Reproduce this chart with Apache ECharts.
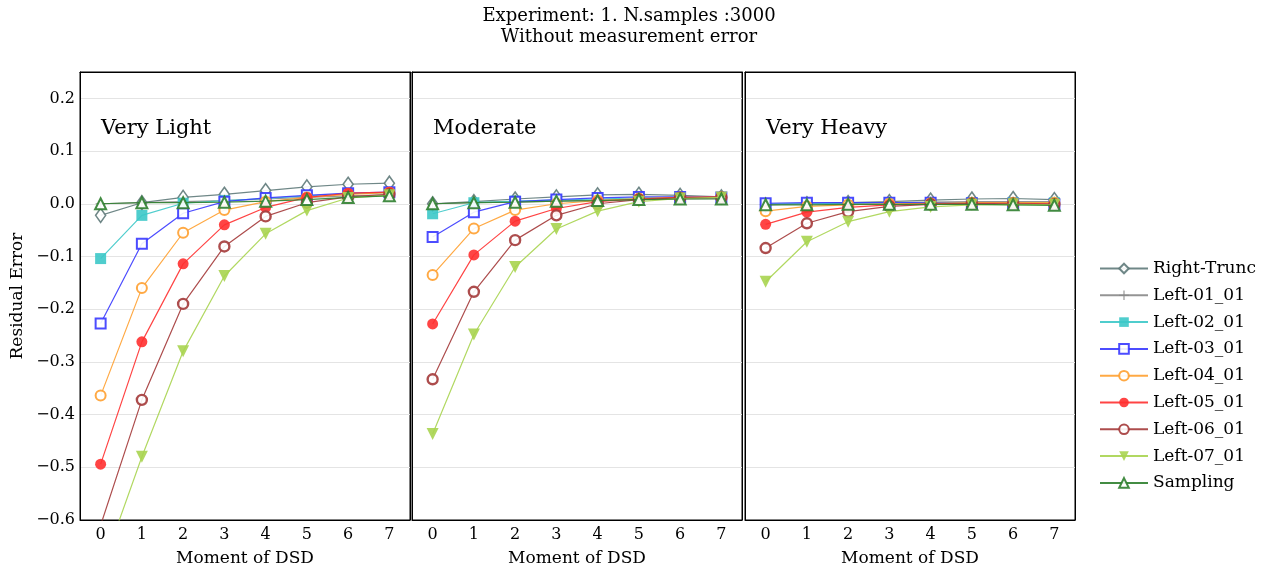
<!DOCTYPE html>
<html>
<head>
<meta charset="utf-8">
<script src="https://cdn.jsdelivr.net/npm/echarts@6/dist/echarts.min.js"></script>
<style>
  html, body { margin: 0; padding: 0; background: #fff; }
  #main { width: 1270px; height: 573px; }
</style>
</head>
<body>
<div id="main"></div>
<script>
// moments on the x axis
const moments = ['0', '1', '2', '3', '4', '5', '6', '7']
const panelNames = ['Very Light', 'Moderate', 'Very Heavy']
const seriesNames = ['Right-Trunc', 'Left-01_01', 'Left-02_01', 'Left-03_01', 'Left-04_01',
  'Left-05_01', 'Left-06_01', 'Left-07_01', 'Sampling']

// Very Light
const veryLight = [
  [-0.022, 0.002, 0.012, 0.018, 0.025, 0.032, 0.037, 0.039],
  [0.000, 0.002, 0.004, 0.006, 0.009, 0.012, 0.015, 0.017],
  [-0.104, -0.022, 0.001, 0.006, 0.010, 0.015, 0.019, 0.021],
  [-0.227, -0.076, -0.018, 0.004, 0.011, 0.016, 0.020, 0.022],
  [-0.364, -0.160, -0.055, -0.012, 0.004, 0.012, 0.018, 0.021],
  [-0.494, -0.262, -0.114, -0.040, -0.007, 0.012, 0.020, 0.022],
  [-0.610, -0.372, -0.190, -0.081, -0.024, 0.002, 0.013, 0.018],
  [-0.700, -0.480, -0.280, -0.137, -0.057, -0.013, 0.011, 0.016],
  [0.000, 0.002, 0.002, 0.003, 0.005, 0.008, 0.012, 0.015]
]
// Moderate
const moderate = [
  [0.000, 0.004, 0.009, 0.013, 0.017, 0.018, 0.016, 0.013],
  [0.000, 0.002, 0.003, 0.005, 0.007, 0.008, 0.009, 0.010],
  [-0.019, 0.002, 0.005, 0.007, 0.009, 0.011, 0.012, 0.012],
  [-0.063, -0.016, 0.004, 0.008, 0.011, 0.013, 0.013, 0.012],
  [-0.135, -0.047, -0.012, 0.000, 0.006, 0.010, 0.012, 0.012],
  [-0.228, -0.097, -0.033, -0.009, 0.004, 0.009, 0.012, 0.013],
  [-0.333, -0.167, -0.069, -0.022, 0.000, 0.008, 0.011, 0.012],
  [-0.437, -0.248, -0.120, -0.048, -0.014, 0.004, 0.010, 0.012],
  [0.000, 0.002, 0.003, 0.005, 0.006, 0.008, 0.009, 0.009]
]
// Very Heavy
const veryHeavy = [
  [-0.002, 0.000, 0.002, 0.004, 0.007, 0.009, 0.010, 0.008],
  [-0.001, 0.000, 0.001, 0.002, 0.003, 0.004, 0.004, 0.004],
  [0.000, 0.000, 0.001, 0.002, 0.002, 0.002, 0.002, 0.002],
  [0.001, 0.002, 0.002, 0.002, 0.002, 0.001, 0.000, -0.001],
  [-0.014, -0.005, -0.002, 0.000, 0.001, 0.002, 0.002, 0.002],
  [-0.039, -0.016, -0.007, -0.002, 0.000, 0.001, 0.001, 0.000],
  [-0.084, -0.037, -0.015, -0.005, -0.001, 0.000, 0.000, -0.001],
  [-0.148, -0.072, -0.034, -0.015, -0.006, -0.002, -0.001, -0.002],
  [-0.002, -0.002, -0.001, -0.001, -0.001, -0.001, -0.002, -0.003]
]
const panelData = [veryLight, moderate, veryHeavy]

const colors = ['#5f7a7a', '#888888', '#3cc8c8', '#3838ff', '#ffa030',
  '#ff3030', '#a43a3a', '#a8d450', '#2f7f2f']
const plusPath = 'path://M4.4,0 h1.2 v4.4 h4.4 v1.2 h-4.4 v4.4 h-1.2 v-4.4 h-4.4 v-1.2 h4.4 z'
const symbols = ['diamond', plusPath, 'rect', 'rect', 'circle', 'circle', 'circle', 'triangle', 'triangle']
const symbolSizes = [[10, 14], 10, 11, 10, 10, 11, 10, 12, 11]
const hollow = [true, false, false, true, true, false, true, false, true]
const borderW = [1.6, 0, 0, 2, 2, 0, 2.4, 0, 2]
const rotates = [0, 0, 0, 0, 0, 0, 0, 180, 0]

const font = 'DejaVu Serif'
const chart = echarts.init(document.getElementById('main'))

const panelLefts = [80, 412, 745]
const panelWidth = 330
let grids = [], xAxes = [], yAxes = [], series = [], titles = []

titles.push({
  text: 'Experiment: 1. N.samples :3000\nWithout measurement error',
  left: 624, top: 1, textAlign: 'center',
  textStyle: { fontFamily: font, fontWeight: 'normal', fontSize: 18, color: '#000', lineHeight: 21 }
})

function yLabel(v) {
  let s = v.toFixed(1)
  if (s === '-0.0') s = '0.0'
  return s.replace('-', '\u2212')
}

panelLefts.forEach(function (left, p) {
  grids.push({ left: left, width: panelWidth, top: 72, bottom: 53, show: true,
    borderColor: '#000', borderWidth: 1, backgroundColor: '#fff' })
  titles.push({ text: panelNames[p], left: left + 16, top: 113,
    textStyle: { fontFamily: font, fontWeight: 'normal', fontSize: 21, color: '#000' } })
  xAxes.push({
    type: 'category', data: moments, gridIndex: p, boundaryGap: true,
    name: 'Moment of DSD', nameLocation: 'middle', nameGap: 30,
    nameTextStyle: { fontFamily: font, fontSize: 17, color: '#000' },
    axisLine: { show: true, onZero: false, lineStyle: { color: '#000' } },
    axisTick: { inside: true, length: 5, alignWithLabel: true, lineStyle: { color: '#000' } },
    axisLabel: { fontFamily: font, fontSize: 16, color: '#000', margin: 7 },
    splitLine: { show: false }
  })
  yAxes.push({
    type: 'value', gridIndex: p, min: -0.6, max: 0.25, interval: 0.1,
    name: p === 0 ? 'Residual Error' : '', nameLocation: 'middle', nameGap: 54,
    nameTextStyle: { fontFamily: font, fontSize: 17, color: '#000' },
    axisLine: { show: true, onZero: false, lineStyle: { color: '#000' } },
    axisTick: { inside: true, length: 5, lineStyle: { color: '#000' } },
    axisLabel: { show: p === 0, fontFamily: font, fontSize: 16, color: '#000', margin: 5,
      showMaxLabel: false, formatter: yLabel },
    splitLine: { show: true, lineStyle: { color: '#e4e4e4', width: 1 } }
  })
  panelData[p].forEach(function (vals, s) {
    series.push({
      name: seriesNames[s], type: 'line', xAxisIndex: p, yAxisIndex: p,
      data: vals, clip: true, z: 2 + s,
      symbol: symbols[s], symbolSize: symbolSizes[s], symbolRotate: rotates[s],
      showAllSymbol: true,
      lineStyle: { color: colors[s], width: 1.2, opacity: 0.9 },
      itemStyle: { color: hollow[s] ? '#fff' : colors[s], borderColor: colors[s],
        borderWidth: borderW[s], opacity: 0.9 },
      emphasis: { disabled: true }
    })
  })
})

// top and right axes for the ticks on the other sides of each box
panelLefts.forEach(function (left, p) {
  xAxes.push({
    type: 'category', data: moments, gridIndex: p, position: 'top', boundaryGap: true,
    axisLine: { show: true, onZero: false, lineStyle: { color: '#000' } },
    axisTick: { inside: true, length: 5, alignWithLabel: true, lineStyle: { color: '#000' } },
    axisLabel: { show: false }, splitLine: { show: false }
  })
  yAxes.push({
    type: 'value', gridIndex: p, position: 'right', min: -0.6, max: 0.25, interval: 0.1,
    axisLine: { show: true, onZero: false, lineStyle: { color: '#000' } },
    axisTick: { inside: true, length: 5, lineStyle: { color: '#000' } },
    axisLabel: { show: false }, splitLine: { show: false }
  })
})

chart.setOption({
  animation: false,
  backgroundColor: '#fff',
  title: titles,
  grid: grids,
  xAxis: xAxes,
  yAxis: yAxes,
  legend: {
    orient: 'vertical', left: 1094, top: 255,
    itemWidth: 48, itemHeight: 12, itemGap: 9.8,
    textStyle: { fontFamily: font, fontSize: 17, color: '#000' },
    data: seriesNames
  },
  series: series
})
</script>
</body>
</html>
